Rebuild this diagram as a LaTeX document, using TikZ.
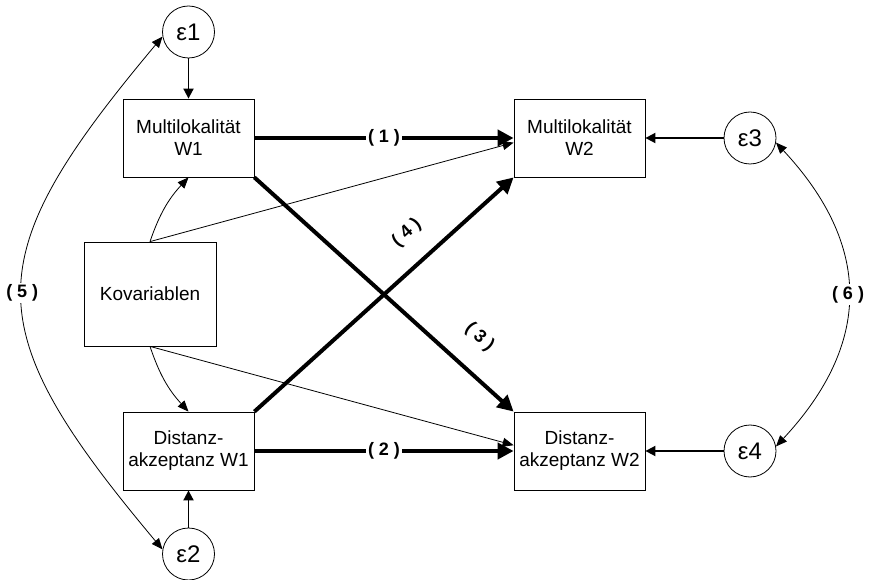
\documentclass[tikz,border=0pt]{standalone}
\usepackage{fontspec}
\setmainfont{Liberation Sans}
\usetikzlibrary{arrows.meta}

\begin{document}
\begin{tikzpicture}[x=1pt, y=1pt,
  varbox/.style={draw={black}, line width=0.8pt, rectangle, minimum width=131pt, minimum height=78pt, inner sep=0pt, align=center, font=\fontsize{19}{22}\selectfont},
  errcircle/.style={draw={black}, line width=0.8pt, circle, minimum size=52pt, inner sep=0pt, font=\fontsize{24}{26}\selectfont},
  thinarrow/.style={line width=0.8pt, -{Triangle[length=11pt, width=9pt]}},
  errarrow/.style={line width=1.8pt, -{Triangle[length=10pt, width=10pt]}},
  mainarrow/.style={line width=4pt, -{Triangle[length=16pt, width=16pt]}},
  covarrow/.style={line width=0.8pt, {Triangle[length=11pt, width=9pt]}-{Triangle[length=11pt, width=9pt]}},
  pathlabel/.style={font=\fontsize{18}{20}\bfseries, inner sep=2pt}
]
\useasboundingbox (0,0) rectangle (870,579);

\node [varbox] (mw1) at (188.5,441) {Multilokalität\\W1};
\node [varbox] (mw2) at (579.5,441) {Multilokalität\\W2};
\node [varbox] (dw1) at (188.5,128) {Distanz-\\akzeptanz W1};
\node [varbox] (dw2) at (579.5,128) {Distanz-\\akzeptanz W2};
\node [varbox, minimum width=132pt, minimum height=104pt] (kov) at (150,285) {Kovariablen};

\node [errcircle] (e1) at (188.5,547) {ε1};
\node [errcircle] (e2) at (188.5,25) {ε2};
\node [errcircle] (e3) at (750,441) {ε3};
\node [errcircle] (e4) at (750,128) {ε4};

\draw [errarrow] (e1) -- (mw1);
\draw [errarrow] (e2) -- (dw1);
\draw [errarrow] (e3) -- (mw2);
\draw [errarrow] (e4) -- (dw2);

\draw [thinarrow] (kov.north) to[bend left=12] (mw1.south);
\draw [thinarrow] (kov.south) to[bend right=12] (dw1.north);
\draw [thinarrow] (kov.north) -- (mw2.184);
\draw [thinarrow] (kov.south) -- (dw2.175);

\draw [mainarrow] (mw1.east) -- node[pathlabel, fill=white] {( 1 )} (mw2.west);
\draw [mainarrow] (dw1.east) -- node[pathlabel, fill=white] {( 2 )} (dw2.west);
\draw [mainarrow] (mw1.south east) -- node[pathlabel, pos=0.785, sloped, above=20pt] {( 3 )} (dw2.north west);
\draw [mainarrow] (dw1.north east) -- node[pathlabel, pos=0.667, sloped, above=18pt] {( 4 )} (mw2.south west);

\draw [covarrow] (e1.190) .. controls +(-187,-223) and +(-187,223) .. node[pathlabel, fill=white, pos=0.5] {( 5 )} (e2.170);
\draw [covarrow] (e3.350) .. controls +(96,-103) and +(96,103) .. node[pathlabel, fill=white, pos=0.5] {( 6 )} (e4.10);
\end{tikzpicture}
\end{document}
